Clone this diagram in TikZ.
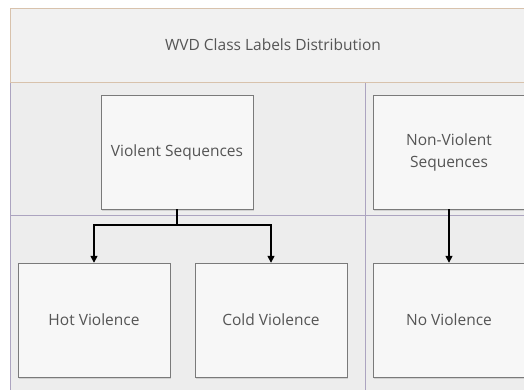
\documentclass[tikz,border=0pt]{standalone}
\usepackage{fontspec}
\setmainfont{Open Sans}
\usepackage{tikz}
\usepackage{xcolor}
\usetikzlibrary{arrows.meta,shadows}

\definecolor{poolgrey}{HTML}{EDEDED}
\definecolor{bandgrey}{HTML}{F1F1F1}
\definecolor{bandedge}{HTML}{D8C2AC}
\definecolor{laneedge}{HTML}{ACA4C0}
\definecolor{boxedge}{HTML}{7A7A7A}
\definecolor{inkgrey}{HTML}{555555}

\tikzset{
    classbox/.style={draw=boxedge, fill=white!97!black, minimum width=152pt,
        minimum height=114pt, align=center, text=inkgrey,
        font=\fontsize{15.5}{22}\selectfont,
        drop shadow={shadow xshift=1pt, shadow yshift=-1.5pt, opacity=0.25}},
    link/.style={line width=1.5pt, -{Triangle[length=7pt,width=7pt]}}
}

\begin{document}
\begin{tikzpicture}[x=1pt,y=-1pt]
    \useasboundingbox (0,0) rectangle (524,389);
    \clip (0,0) rectangle (524,389);
    \fill[white] (0,0) rectangle (524,389);

    % Pool and lanes
    \fill[poolgrey] (10,8) rectangle (540,400);
    \draw[laneedge] (10,82) rectangle (540,400);
    \draw[laneedge] (10,215) -- (540,215);
    \draw[laneedge] (365,82) -- (365,400);

    % Title band
    \draw[bandedge, fill=bandgrey] (10,8) rectangle (540,82);
    \node[text=inkgrey, font=\fontsize{15.5}{18}\selectfont] (title) at (273,45) {WVD Class Labels Distribution};

    % Sequence classes
    \node[classbox] (violent) at (177,152) {Violent Sequences};
    \node[classbox] (nonviolent) at (449,152) {Non-Violent\\Sequences};

    % Violence labels
    \node[classbox] (hot) at (94,320) {Hot Violence};
    \node[classbox] (cold) at (271,320) {Cold Violence};
    \node[classbox] (none) at (449,320) {No Violence};

    % Links
    \coordinate (split) at (177,225);
    \draw[line width=1.5pt] (violent.south) -- (split);
    \draw[link] (split) -| (hot.north);
    \draw[link] (split) -| (cold.north);
    \draw[link] (nonviolent.south) -- (none.north);
\end{tikzpicture}
\end{document}
